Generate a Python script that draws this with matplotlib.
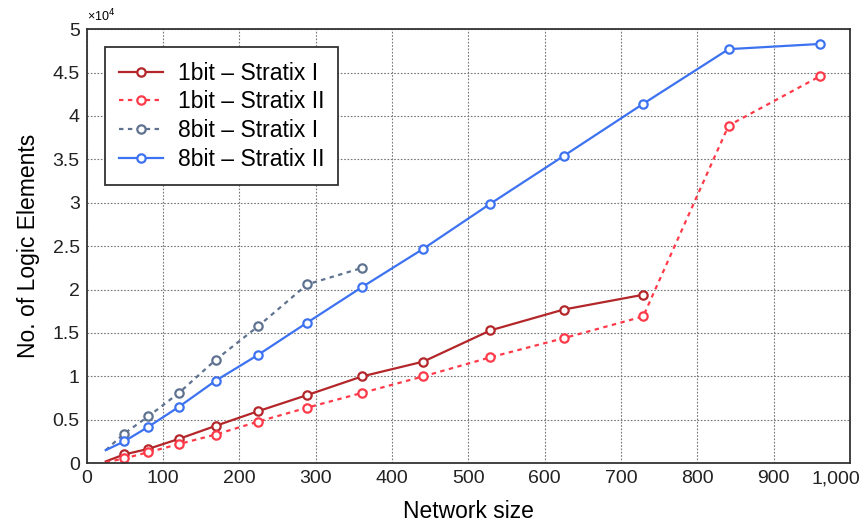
import matplotlib.pyplot as plt
from matplotlib.ticker import FuncFormatter
from matplotlib.transforms import ScaledTranslation

plt.rcParams['font.family'] = ['Liberation Sans', 'DejaVu Sans']

# network sizes (first point drawn without marker)
sizes = [25, 49, 81, 121, 169, 225, 289, 361, 441, 529, 625, 729, 841, 961]

# logic elements, in units of 1e4
bit1_s1 = [0.02, 0.10, 0.165, 0.28, 0.43, 0.60, 0.785, 1.00, 1.17, 1.53, 1.77, 1.94]
bit1_s2 = [0.01, 0.054, 0.127, 0.22, 0.33, 0.48, 0.64, 0.81, 1.00, 1.22, 1.44, 1.69, 3.89, 4.46]
bit8_s1 = [0.15, 0.34, 0.54, 0.81, 1.19, 1.58, 2.06, 2.25]
bit8_s2 = [0.15, 0.25, 0.42, 0.65, 0.95, 1.25, 1.62, 2.03, 2.47, 2.99, 3.54, 4.14, 4.77, 4.83]

series = [
    ("1bit – Stratix I", bit1_s1, '#b3262a', '-'),
    ("1bit – Stratix II", bit1_s2, '#ff3b4a', (0, (2, 2))),
    ("8bit – Stratix I", bit8_s1, '#5f7391', (0, (2, 2))),
    ("8bit – Stratix II", bit8_s2, '#3d72f0', '-'),
]

fig = plt.figure(figsize=(8.64, 5.21), dpi=100)
ax = fig.add_axes([0.1003, 0.111, 0.8835, 0.833])

for label, vals, color, ls in series:
    ax.plot(sizes[:len(vals)], vals, color=color, linestyle=ls, lw=1.6,
            marker='o', markersize=6, markerfacecolor='white',
            markeredgewidth=1.6, markevery=slice(1, None), label=label)

ax.set_xlim(0, 1000)
ax.set_ylim(0, 5)
ax.set_xticks(range(0, 1001, 100))
ax.set_yticks([i * 0.5 for i in range(11)])
ax.xaxis.set_major_formatter(FuncFormatter(lambda v, p: f"{int(v):,}"))
ax.yaxis.set_major_formatter(FuncFormatter(lambda v, p: f"{v:g}"))
ax.tick_params(labelsize=14, direction='in', length=0, pad=5, colors='#222222')
ax.grid(True, color='#777777', linestyle=(0, (1.5, 1.5)), lw=0.8)
for s in ax.spines.values():
    s.set_linewidth(1.3)
    s.set_color('#333333')

# shift the last x label left so it stays inside the figure
fig.canvas.draw()
last = ax.get_xticklabels()[-1]
last.set_transform(last.get_transform() + ScaledTranslation(-0.14, 0, fig.dpi_scale_trans))

ax.text(0.0, 1.012, "×10$^4$", transform=ax.transAxes, fontsize=9, ha='left', va='bottom')
ax.set_xlabel("Network size", fontsize=16.5, labelpad=9)
ax.set_ylabel("No. of Logic Elements", fontsize=16.5, labelpad=9)

leg = ax.legend(loc='upper left', bbox_to_anchor=(0.024, 0.958), borderaxespad=0,
                fontsize=16.5, fancybox=False, edgecolor='#333333', framealpha=1,
                handlelength=1.9, handletextpad=0.65, borderpad=0.62, labelspacing=0.25)
leg.get_frame().set_linewidth(1.3)

fig.savefig("out.png")
